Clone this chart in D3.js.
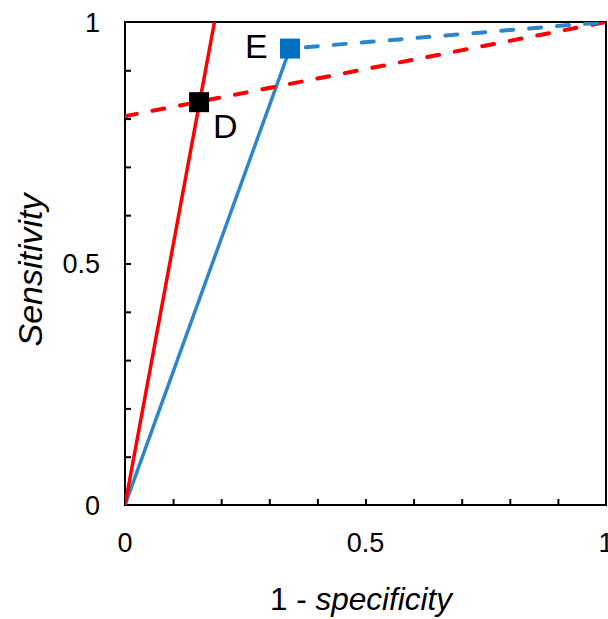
<!DOCTYPE html>
<html><head><meta charset="utf-8">
<script src="https://cdn.jsdelivr.net/npm/d3@7"></script>
<style>body{margin:0;background:#fff}svg{display:block}</style>
</head><body>
<script>
const xTicks = [0, 0.5, 1];
const yTicks = [0, 0.5, 1];
const minorTicks = [0.1,0.2,0.3,0.4,0.5,0.6,0.7,0.8,0.9];
const redSolid = [[0,0],[0.186,1]];
const redDashed = [[0,0.805],[1,1]];
const blueSolid = [[0,0],[0.343,0.945]];
const blueDashed = [[0.343,0.945],[1,1]];
const points = [
  {name:"D", x:0.154, y:0.834, color:"#000000"},
  {name:"E", x:0.343, y:0.945, color:"#0070C0"}
];

const W=608,H=619;
const m={l:125,r:2,t:22,b:114};
const svg=d3.select("body").append("svg").attr("width",W).attr("height",H);
const x=d3.scaleLinear().domain([0,1]).range([m.l,W-m.r]);
const y=d3.scaleLinear().domain([0,1]).range([H-m.b,m.t]);

svg.append("defs").append("clipPath").attr("id","c").append("rect")
  .attr("x",x(0)).attr("y",y(1)).attr("width",x(1)-x(0)).attr("height",y(0)-y(1));

svg.append("rect").attr("x",x(0)).attr("y",y(1)).attr("width",x(1)-x(0)).attr("height",y(0)-y(1))
  .attr("fill","none").attr("stroke","#000").attr("stroke-width",2);

const xa=d3.axisBottom(x).tickValues(minorTicks).tickSize(-6).tickFormat("");
const gx=svg.append("g").attr("transform",`translate(0,${y(0)})`).call(xa);
gx.select(".domain").remove();
gx.selectAll("line").attr("stroke","#000").attr("stroke-width",2);
const ya=d3.axisLeft(y).tickValues(minorTicks).tickSize(-6).tickFormat("");
const gy=svg.append("g").attr("transform",`translate(${x(0)},0)`).call(ya);
gy.select(".domain").remove();
gy.selectAll("line").attr("stroke","#000").attr("stroke-width",2);

const font="'Liberation Sans', Arial, sans-serif";
svg.selectAll(".xl").data(xTicks).enter().append("text")
  .attr("x",d=>x(d)).attr("y",y(0)+47).attr("text-anchor","middle")
  .attr("font-family",font).attr("font-size",27).text(d=>d);
svg.selectAll(".yl").data(yTicks).enter().append("text")
  .attr("x",x(0)-25).attr("y",d=>y(d)+9.5).attr("text-anchor","end")
  .attr("font-family",font).attr("font-size",27).text(d=>d);

const xt=svg.append("text").attr("x",361).attr("y",610).attr("text-anchor","middle")
  .attr("font-family",font).attr("font-size",31.5);
xt.append("tspan").text("1 - ");
xt.append("tspan").attr("font-style","italic").text("specificity");
svg.append("text").attr("transform",`translate(42,270) rotate(-90)`)
  .attr("text-anchor","middle").attr("font-family",font).attr("font-size",34)
  .attr("font-style","italic").text("Sensitivity");

const line=d3.line().x(d=>x(d[0])).y(d=>y(d[1]));
const g=svg.append("g").attr("clip-path","url(#c)");
g.append("path").datum(blueSolid).attr("d",line).attr("stroke","#2E86C8").attr("stroke-width",3.5).attr("fill","none");
g.append("path").datum(redSolid).attr("d",line).attr("stroke","#FF0000").attr("stroke-width",3.5).attr("fill","none");
g.append("path").datum(redDashed).attr("d",line).attr("stroke","#FF0000").attr("stroke-width",4).attr("fill","none")
  .attr("stroke-dasharray","12,16").attr("stroke-linecap","round");
g.append("path").datum(blueDashed).attr("d",line).attr("stroke","#2E86C8").attr("stroke-width",4).attr("fill","none")
  .attr("stroke-dasharray","12,16").attr("stroke-dashoffset",-16).attr("stroke-linecap","round");

const s=20;
svg.selectAll(".pt").data(points).enter().append("rect")
  .attr("x",d=>x(d.x)-s/2).attr("y",d=>y(d.y)-s/2).attr("width",s).attr("height",s)
  .attr("fill",d=>d.color);
svg.append("text").attr("x",x(points[0].x)+14).attr("y",y(points[0].y)+36)
  .attr("font-family",font).attr("font-size",34).text(points[0].name);
svg.append("text").attr("x",x(points[1].x)-45).attr("y",y(points[1].y)+9)
  .attr("font-family",font).attr("font-size",34).text(points[1].name);
</script>
</body></html>
